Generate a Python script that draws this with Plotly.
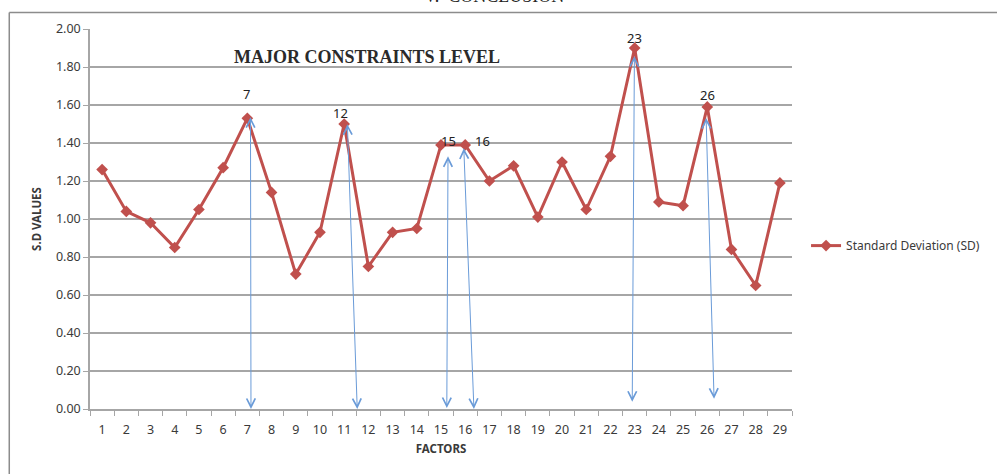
import plotly.graph_objects as go

# Standard deviation of each constraint factor
factors = list(range(1, 30))
sd_values = [1.26, 1.04, 0.98, 0.85, 1.05, 1.27, 1.53, 1.14, 0.71, 0.93,
             1.50, 0.75, 0.93, 0.95, 1.39, 1.39, 1.20, 1.28, 1.01, 1.30,
             1.05, 1.33, 1.90, 1.09, 1.07, 1.59, 0.84, 0.65, 1.19]

y_ticks = [0.0, 0.2, 0.4, 0.6, 0.8, 1.0, 1.2, 1.4, 1.6, 1.8, 2.0]
y_tick_text = [f"{v:.2f}" for v in y_ticks]

# Major constraints: label text and label anchor (factor, value)
peak_labels = ["7", "12", "15", "16", "23", "26"]
peak_label_x = [6.97, 10.84, 15.29, 16.73, 22.99, 25.99]
peak_label_y = [1.66, 1.56, 1.41, 1.41, 1.954, 1.654]

# Double-headed pointers from each major peak down to the factor axis
pointer_top_x = [7.13, 11.13, 15.29, 15.94, 22.99, 25.95]
pointer_top_y = [1.544, 1.507, 1.338, 1.38, 1.865, 1.54]
pointer_base_x = [7.15, 11.54, 15.24, 16.36, 22.90, 26.28]
pointer_base_y = [0.0, 0.0, 0.005, 0.0, 0.038, 0.054]

RED = "#c0504d"
BLUE = "#6a9bd8"
GRID = "#a6a6a6"
TEXT = "#3a3a3a"

fig = go.Figure()
fig.add_trace(go.Scatter(
    x=factors, y=sd_values, mode="lines+markers",
    name="Standard Deviation (SD)",
    line=dict(color=RED, width=3),
    marker=dict(symbol="diamond", size=9, color=RED),
))

annotations = []
for t, lx, ly in zip(peak_labels, peak_label_x, peak_label_y):
    annotations.append(dict(x=lx, y=ly, xref="x", yref="y", text=t,
                            showarrow=False,
                            font=dict(family="Noto Sans", size=13, color="#222")))

for tx, ty, bx, by in zip(pointer_top_x, pointer_top_y, pointer_base_x, pointer_base_y):
    annotations.append(dict(x=bx, y=by, ax=tx, ay=ty, xref="x", yref="y",
                            axref="x", ayref="y", text="", showarrow=True,
                            arrowhead=5, startarrowhead=5, arrowside="end+start",
                            arrowsize=1.7, startarrowsize=1.7,
                            arrowwidth=1.0, arrowcolor=BLUE))

# Chart title inside the plot area
annotations.append(dict(x=(368 - 90) / 704, y=(409.3 - 45) / 380, xref="paper", yref="paper",
                        text="<b>MAJOR CONSTRAINTS LEVEL</b>", showarrow=False,
                        font=dict(family="Liberation Serif", size=18, color="#2a2a2a")))

# Section heading running off the top edge
annotations.append(dict(x=(495 - 90) / 704, y=1.056, xref="paper", yref="paper",
                        yanchor="bottom", text="V.  CONCLUSION", showarrow=False,
                        font=dict(family="Liberation Serif", size=18, color="#222")))

shapes = [
    dict(type="line", xref="paper", yref="paper", x0=-0.115, x1=-0.115,
         y0=-0.3, y1=1.0437, line=dict(color="#8c8c8c", width=1.5)),
    dict(type="line", xref="paper", yref="paper", x0=-0.115, x1=1.4,
         y0=1.0437, y1=1.0437, line=dict(color="#8c8c8c", width=1.5)),
]

fig.update_layout(
    width=997, height=474,
    margin=dict(l=90, r=203, t=29, b=65),
    paper_bgcolor="white", plot_bgcolor="white",
    font=dict(family="Noto Sans", color=TEXT),
    showlegend=True,
    legend=dict(x=1.02, y=0.43, xanchor="left", yanchor="middle",
                font=dict(family="Noto Sans", size=12, color=TEXT),
                bgcolor="rgba(0,0,0,0)", itemwidth=30),
    annotations=annotations,
    shapes=shapes,
    xaxis=dict(
        range=[0.5, 29.5], tickmode="array", tickvals=factors,
        ticktext=[str(f) for f in factors], ticks="", ticklabelstandoff=8,
        showgrid=False, zeroline=False, showline=True,
        linecolor=GRID, linewidth=1.5,
        tickfont=dict(size=12.5, color=TEXT),
        minor=dict(tickvals=[f + 0.5 for f in range(0, 30)], ticks="outside",
                   ticklen=5, tickcolor=GRID, tickwidth=1.2, showgrid=False),
        title=dict(text="<b>FACTORS</b>", font=dict(size=11.5, color=TEXT), standoff=8),
    ),
    yaxis=dict(
        range=[0, 2.0], tickmode="array", tickvals=y_ticks, ticktext=y_tick_text,
        ticks="outside", ticklen=5, tickcolor=GRID, tickwidth=1.2,
        showgrid=True, gridcolor=GRID, gridwidth=1.5, zeroline=False,
        showline=True, linecolor=GRID, linewidth=1.5,
        tickfont=dict(size=12.5, color=TEXT),
        title=dict(text="<b>S.D VALUES</b>", font=dict(size=11.5, color=TEXT), standoff=12),
    ),
)

fig.write_html("out.html")
